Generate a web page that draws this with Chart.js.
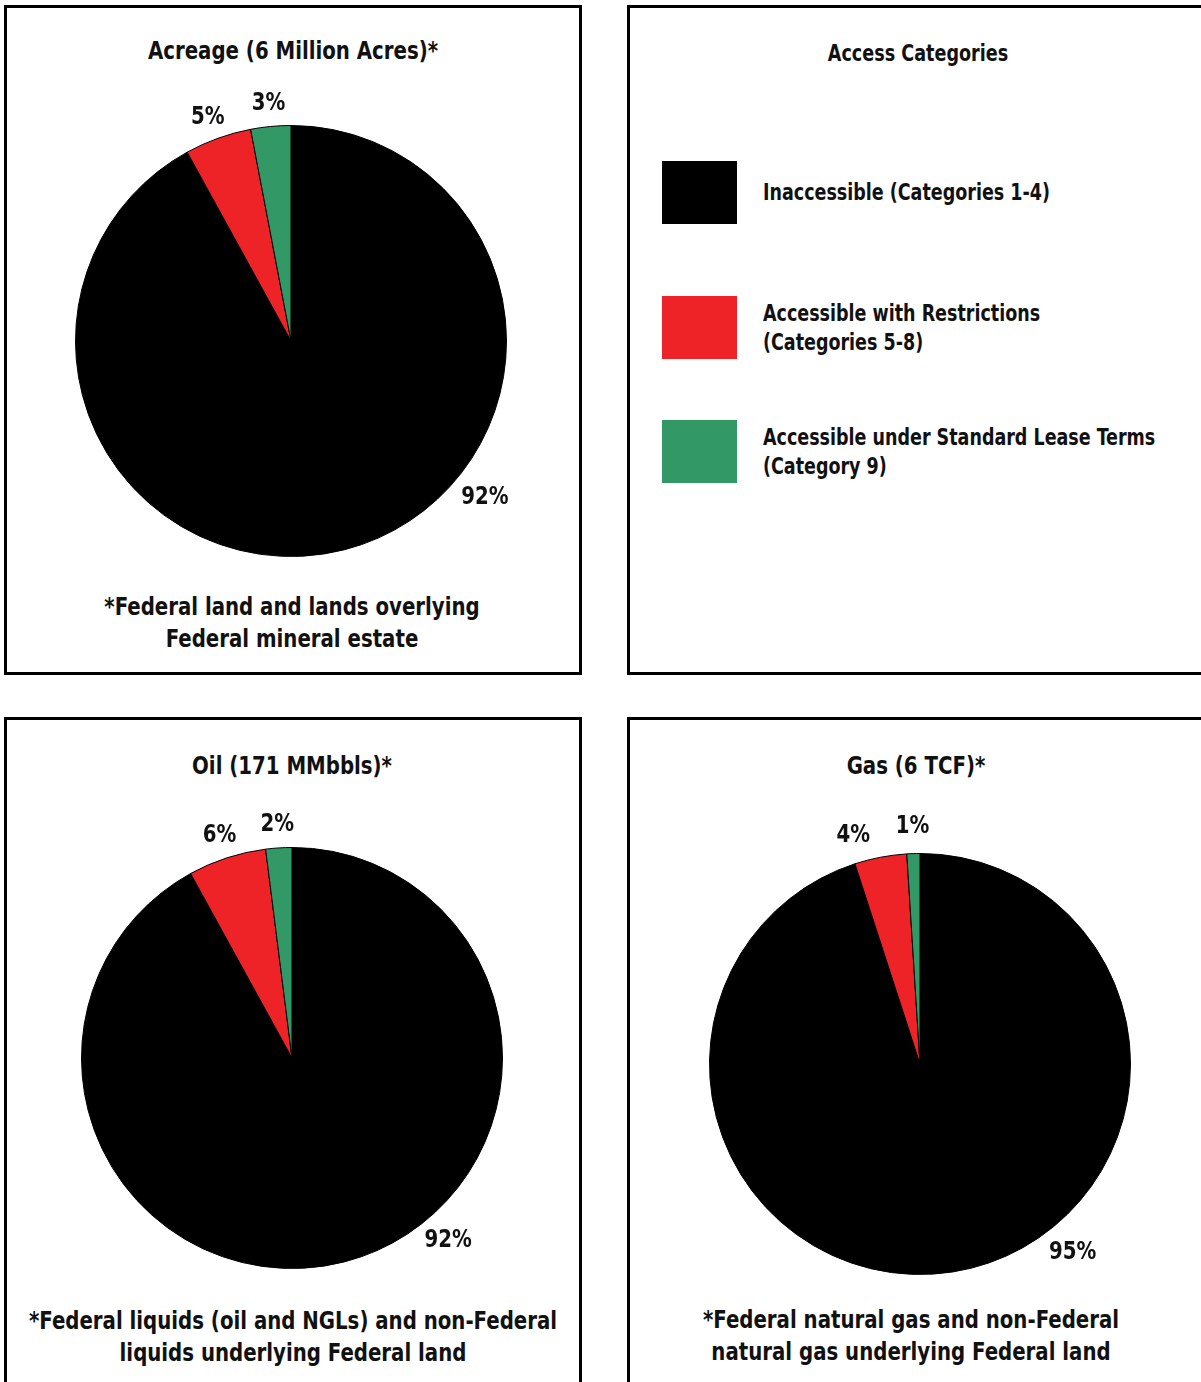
<!DOCTYPE html>
<html>
<head>
<meta charset="utf-8">
<title>Access Categories</title>
<script src="https://cdn.jsdelivr.net/npm/chart.js@4.4.0/dist/chart.umd.min.js"></script>
<style>
    body {
        margin: 0;
        width: 1201px;
        height: 1382px;
        position: relative;
        overflow: hidden;
        background: #fff;
        color: #111;
        font-family: "DejaVu Sans Condensed", "DejaVu Sans", sans-serif;
        font-weight: bold;
    }
    .panel { position: absolute; border: 3px solid #000; box-sizing: border-box; }
    /* DejaVu Condensed is still wider than the original face, squeeze it a bit */
    .text { position: absolute; text-align: center; font-size: 24px; line-height: 32px; white-space: nowrap; transform: scaleX(0.915); }
    canvas { position: absolute; }
    .legend-item { position: absolute; left: 662px; height: 63px; display: flex; align-items: center; }
    .legend-swatch { width: 75px; height: 63px; flex: none; }
    .legend-label { margin-left: 26px; font-size: 22.5px; line-height: 29px; white-space: nowrap; transform: scaleX(0.865); transform-origin: left center; }
</style>
</head>
<body>
<div class="panel" style="left:4px; top:5px; width:578px; height:670px;"></div>
<div class="panel" style="left:627px; top:5px; width:590px; height:670px;"></div>
<div class="panel" style="left:4px; top:717px; width:578px; height:690px;"></div>
<div class="panel" style="left:627px; top:717px; width:590px; height:690px;"></div>

<div class="text" id="acreageTitle" style="left:93px; width:400px; top:35px;"></div>
<div class="text" id="acreageNote" style="left:42px; width:500px; top:591px;"></div>
<div class="text" id="legendTitle" style="left:718px; width:400px; top:37px; font-size:23px; transform: scaleX(0.85);"></div>
<div id="legend"></div>
<div class="text" id="oilTitle" style="left:92px; width:400px; top:750px;"></div>
<div class="text" id="oilNote" style="left:3px; width:580px; top:1305px;"></div>
<div class="text" id="gasTitle" style="left:716px; width:400px; top:750px;"></div>
<div class="text" id="gasNote" style="left:621px; width:580px; top:1304px;"></div>

<canvas id="acreageChart" width="552" height="552" style="left:15px; top:65px;"></canvas>
<canvas id="oilChart" width="542" height="542" style="left:21px; top:787px;"></canvas>
<canvas id="gasChart" width="542" height="542" style="left:649px; top:793px;"></canvas>

<script>
// ---- data ----
const categories = [
    'Inaccessible (Categories 1-4)',
    'Accessible with Restrictions (Categories 5-8)',
    'Accessible under Standard Lease Terms (Category 9)'
];
const legendLines = [
    ['Inaccessible (Categories 1-4)'],
    ['Accessible with Restrictions', '(Categories 5-8)'],
    ['Accessible under Standard Lease Terms', '(Category 9)']
];
const sliceColors = ['#000000', '#ED2328', '#329966'];

const acreageValues = [92, 5, 3];
const oilValues = [92, 6, 2];
const gasValues = [95, 4, 1];

const acreageTitle = 'Acreage (6 Million Acres)*';
const oilTitle = 'Oil (171 MMbbls)*';
const gasTitle = 'Gas (6 TCF)*';
const legendTitle = 'Access Categories';
const acreageNote = ['*Federal land and lands overlying', 'Federal mineral estate'];
const oilNote = ['*Federal liquids (oil and NGLs) and non-Federal', 'liquids underlying Federal land'];
const gasNote = ['*Federal natural gas and non-Federal', 'natural gas underlying Federal land'];

// ---- text ----
function setLines(id, lines) {
    document.getElementById(id).innerHTML = [].concat(lines).join('<br>');
}
setLines('acreageTitle', acreageTitle);
setLines('oilTitle', oilTitle);
setLines('gasTitle', gasTitle);
setLines('legendTitle', legendTitle);
setLines('acreageNote', acreageNote);
setLines('oilNote', oilNote);
setLines('gasNote', gasNote);

// legend boxes
const legendTops = [161, 296, 420];
document.getElementById('legend').innerHTML = categories.map((c, i) => `
    <div class="legend-item" style="top:${legendTops[i]}px" title="${c}">
        <div class="legend-swatch" style="background:${sliceColors[i]}"></div>
        <div class="legend-label">${legendLines[i].join('<br>')}</div>
    </div>`).join('');

// ---- percentage labels outside the pie ----
const pctLabels = {
    id: 'pctLabels',
    afterDatasetsDraw(chart, args, opts) {
        const ctx = chart.ctx;
        const arcs = chart.getDatasetMeta(0).data;
        const values = chart.data.datasets[0].data;
        const deg = Math.PI / 180;
        let lastSmall = null;
        // walk from the last slice backwards so small slices can be pushed apart
        for (let i = arcs.length - 1; i >= 0; i--) {
            const a = arcs[i];
            let angle, dist;
            if (i === 0) {
                angle = opts.bigAngle * deg;
                dist = a.outerRadius + opts.bigOffset;
            } else {
                angle = (a.startAngle + a.endAngle) / 2;
                if (lastSmall !== null) angle = Math.min(angle, lastSmall - opts.minSep * deg);
                lastSmall = angle;
                dist = a.outerRadius + opts.smallOffset;
            }
            ctx.save();
            ctx.translate(a.x + Math.cos(angle) * dist, a.y + Math.sin(angle) * dist);
            ctx.scale(0.915, 1);
            ctx.font = 'bold 24px "DejaVu Sans Condensed", "DejaVu Sans", sans-serif';
            ctx.fillStyle = '#111';
            ctx.textAlign = 'center';
            ctx.textBaseline = 'middle';
            ctx.fillText(values[i] + '%', 0, 0);
            ctx.restore();
        }
    }
};

function createPie(canvasId, values, labelOpts) {
    const ctx = document.getElementById(canvasId).getContext('2d');
    return new Chart(ctx, {
        type: 'pie',
        data: {
            labels: categories,
            datasets: [{
                data: values,
                backgroundColor: sliceColors,
                borderColor: '#000',
                borderWidth: 1
            }]
        },
        options: {
            responsive: false,
            animation: false,
            events: [],
            layout: { padding: 60 },
            plugins: {
                legend: { display: false },
                tooltip: { enabled: false },
                pctLabels: Object.assign({ bigAngle: 46, bigOffset: 30, smallOffset: 23, minSep: 14.5 }, labelOpts)
            }
        },
        plugins: [pctLabels]
    });
}

createPie('acreageChart', acreageValues, { bigAngle: 39, bigOffset: 34, minSep: 15 });
createPie('oilChart', oilValues, { bigAngle: 49.5, bigOffset: 30 });
createPie('gasChart', gasValues, { bigAngle: 51, bigOffset: 32, smallOffset: 27 });
</script>
</body>
</html>
